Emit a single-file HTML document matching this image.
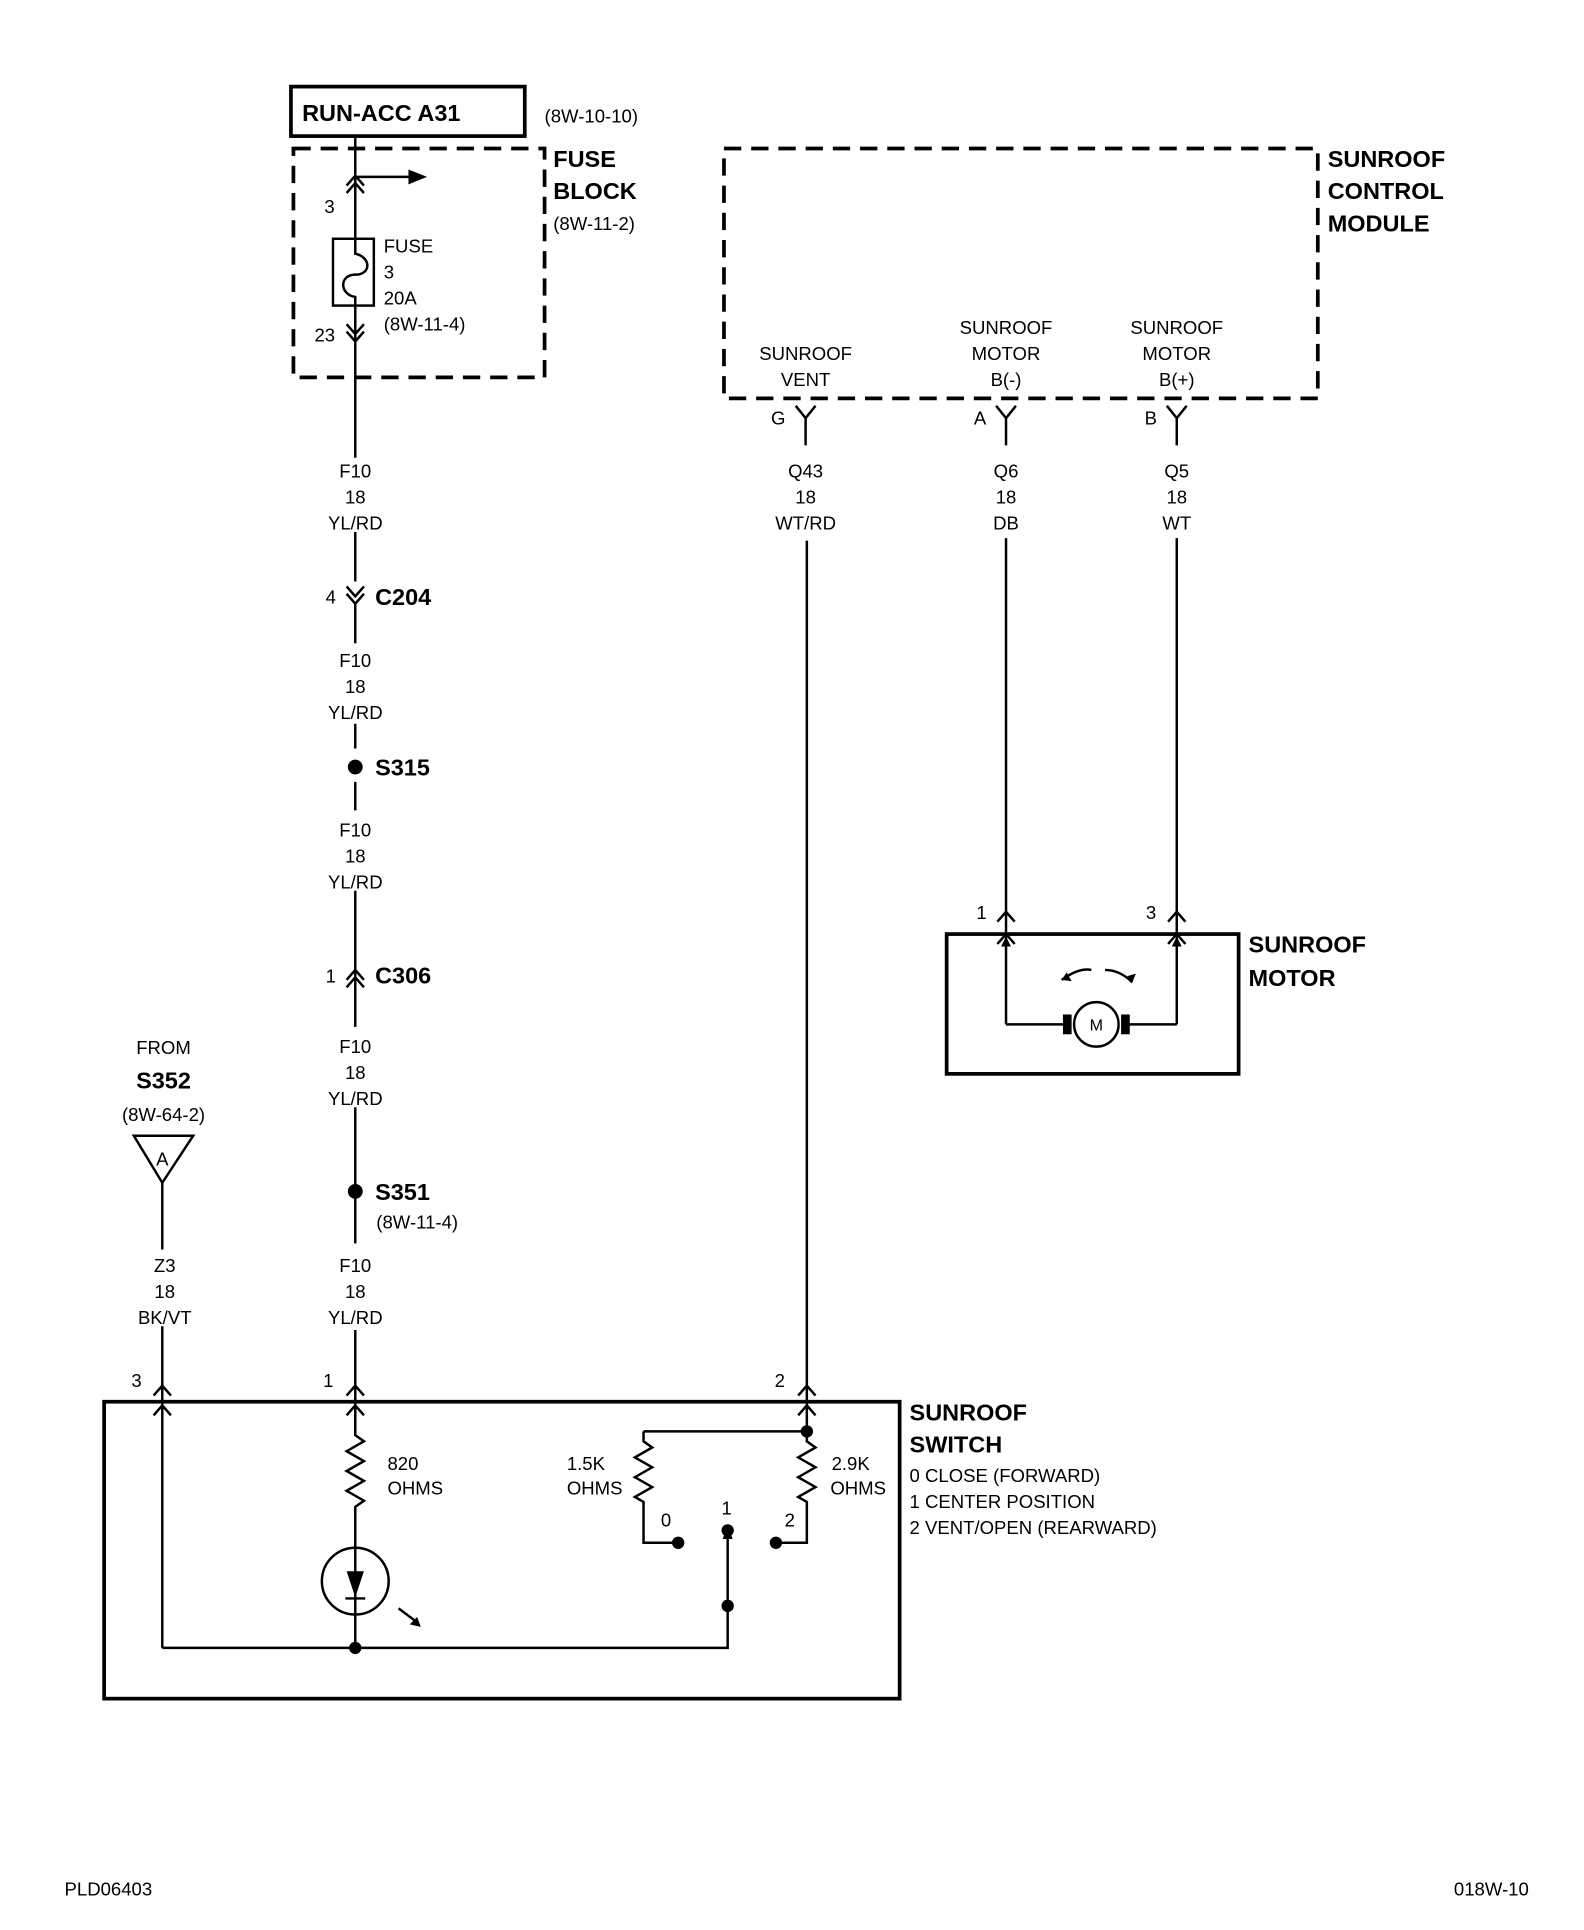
<!DOCTYPE html>
<html><head><meta charset="utf-8"><style>
html,body{margin:0;padding:0;background:#fff}
svg{display:block}
text{font-family:"Liberation Sans Narrow","Liberation Sans",sans-serif;fill:#000}
.s{font-size:15px}
.b{font-size:19px;font-weight:bold}
</style></head><body>
<svg width="1584" height="1930" viewBox="0 0 1280 1560" xmlns="http://www.w3.org/2000/svg">
<g stroke="#000" stroke-width="2" fill="none">
<!-- top box -->
<rect x="235" y="70" width="189" height="40" stroke-width="3"/>
<rect x="237" y="120" width="203" height="185" stroke-dasharray="14,8" stroke-width="3"/>
<rect x="585" y="120" width="480" height="202" stroke-dasharray="14,8" stroke-width="3"/>
<!-- main wire -->
<line x1="287" y1="110" x2="287" y2="193"/>
<line x1="287" y1="247" x2="287" y2="370"/>
<line x1="287" y1="430" x2="287" y2="470"/>
<line x1="287" y1="488" x2="287" y2="520"/>
<line x1="287" y1="585" x2="287" y2="605"/>
<line x1="287" y1="632" x2="287" y2="655"/>
<line x1="287" y1="720" x2="287" y2="830"/>
<line x1="287" y1="895" x2="287" y2="1005"/>
<line x1="287" y1="1075" x2="287" y2="1160"/>
<!-- arrow right -->
<line x1="287" y1="143" x2="330" y2="143"/>
<!-- fuse -->
<rect x="269" y="193" width="33" height="54"/>
<path d="M287 193 V205 C300 208,300 222,287 222 C274 222,274 238,287 240 V247"/>
<!-- chevrons -->
<path d="M280 150 L287 142 L294 150 M280 156 L287 148 L294 156"/>
<path d="M280 262 L287 270 L294 262 M280 268 L287 276 L294 268"/>
<path d="M280 474 L287 482 L294 474 M280 480 L287 488 L294 480"/>
<path d="M280 792 L287 784 L294 792 M280 798 L287 790 L294 798"/>
<path d="M280 1128 L287 1120 L294 1128 M280 1144 L287 1136 L294 1144"/>
<path d="M124 1128 L131 1120 L138 1128 M124 1144 L131 1136 L138 1144"/>
<path d="M645 1128 L652 1120 L659 1128 M645 1144 L652 1136 L659 1144"/>
<path d="M806 745 L813 737 L820 745 M806 763 L813 755 L820 763"/>
<path d="M944 745 L951 737 L958 745 M944 763 L951 755 L958 763"/>
<!-- module female connectors -->
<path d="M643 328 L651 338 L659 328 M651 338 V360"/>
<path d="M805 328 L813 338 L821 328 M813 338 V360"/>
<path d="M943 328 L951 338 L959 328 M951 338 V360"/>
<line x1="652" y1="437" x2="652" y2="1157"/>
<line x1="813" y1="435" x2="813" y2="828"/>
<line x1="951" y1="435" x2="951" y2="828"/>
<!-- motor -->
<rect x="765" y="755" width="236" height="113" stroke-width="3"/>
<path d="M813 828 H860 M912 828 H951"/>
<circle cx="886" cy="828" r="18"/>
<path d="M858 792 Q872 782 882 784 M893 784 Q905 784 915 794"/>
<!-- S352 triangle -->
<path d="M108 918 H156 L131 956 Z"/>
<line x1="131" y1="956" x2="131" y2="1010"/>
<line x1="131" y1="1072" x2="131" y2="1332"/>
<!-- switch box -->
<rect x="84" y="1133" width="643" height="240" stroke-width="3"/>
<path d="M287 1138 V1160 l7 5 l-14 8 l14 8 l-14 8 l14 8 l-14 8 l14 8 l-7 5 V1252"/>
<circle cx="287" cy="1278" r="27"/>
<path d="M287 1252 V1332"/>
<path d="M279 1292 H295"/>
<path d="M131 1332 H588 V1240"/>
<path d="M322 1300 L338 1312"/>
<path d="M520 1157 H652 M520 1157 V1165 l7 5 l-14 8 l14 8 l-14 8 l14 8 l-14 8 l7 4 V1247 H548"/>
<path d="M652 1157 V1165 l7 5 l-14 8 l14 8 l-14 8 l14 8 l-14 8 l7 4 V1247 H627"/>
</g>
<g fill="#000">
<path d="M330 137 L345 143 L330 149 Z"/>
<path d="M280 1270 H294 L287 1291 Z"/>
<path d="M340 1315 L331 1313 L337 1307 Z"/>
<path d="M584 1244 L588 1232 L592 1244 Z"/>
<path d="M809 765 L813 757 L817 765 Z"/>
<path d="M947 765 L951 757 L955 765 Z"/>
<rect x="859" y="820" width="7" height="16"/>
<rect x="906" y="820" width="7" height="16"/>
<path d="M858 792 L862 786 L866 793 Z"/>
<path d="M915 794 L918 787 L911 789 Z"/>
<circle cx="287" cy="620" r="6"/>
<circle cx="287" cy="963" r="6"/>
<circle cx="287" cy="1332" r="5"/>
<circle cx="588" cy="1298" r="5"/>
<circle cx="588" cy="1237" r="5"/>
<circle cx="548" cy="1247" r="5"/>
<circle cx="627" cy="1247" r="5"/>
<circle cx="652" cy="1157" r="5"/>
</g>
<text x="244" y="98" class="b">RUN-ACC A31</text>
<text x="440" y="99" class="s">(8W-10-10)</text>
<text x="447" y="135" class="b">FUSE</text>
<text x="447" y="161" class="b">BLOCK</text>
<text x="447" y="186" class="s">(8W-11-2)</text>
<text x="262" y="172" class="s">3</text>
<text x="310" y="204" class="s">FUSE</text>
<text x="310" y="225" class="s">3</text>
<text x="310" y="246" class="s">20A</text>
<text x="310" y="267" class="s">(8W-11-4)</text>
<text x="254" y="276" class="s">23</text>
<text x="1073" y="135" class="b">SUNROOF</text>
<text x="1073" y="161" class="b">CONTROL</text>
<text x="1073" y="187" class="b">MODULE</text>
<g class="s" text-anchor="middle">
<text x="651" y="291">SUNROOF</text><text x="651" y="312">VENT</text>
<text x="813" y="270">SUNROOF</text><text x="813" y="291">MOTOR</text><text x="813" y="312">B(-)</text>
<text x="951" y="270">SUNROOF</text><text x="951" y="291">MOTOR</text><text x="951" y="312">B(+)</text>
<text x="651" y="386">Q43</text><text x="651" y="407">18</text><text x="651" y="428">WT/RD</text>
<text x="813" y="386">Q6</text><text x="813" y="407">18</text><text x="813" y="428">DB</text>
<text x="951" y="386">Q5</text><text x="951" y="407">18</text><text x="951" y="428">WT</text>
<text x="287" y="386">F10</text><text x="287" y="407">18</text><text x="287" y="428">YL/RD</text>
<text x="287" y="539">F10</text><text x="287" y="560">18</text><text x="287" y="581">YL/RD</text>
<text x="287" y="676">F10</text><text x="287" y="697">18</text><text x="287" y="718">YL/RD</text>
<text x="287" y="851">F10</text><text x="287" y="872">18</text><text x="287" y="893">YL/RD</text>
<text x="287" y="1028">F10</text><text x="287" y="1049">18</text><text x="287" y="1070">YL/RD</text>
<text x="133" y="1028">Z3</text><text x="133" y="1049">18</text><text x="133" y="1070">BK/VT</text>
<text x="132" y="852">FROM</text>
<text x="132" y="906">(8W-64-2)</text>
<text x="131" y="942">A</text>
<text x="886" y="833" style="font-size:13px">M</text>
</g>
<text x="132" y="880" class="b" text-anchor="middle">S352</text>
<text x="623" y="343" class="s">G</text>
<text x="787" y="343" class="s">A</text>
<text x="925" y="343" class="s">B</text>
<text x="263" y="488" class="s">4</text>
<text x="303" y="489" class="b">C204</text>
<text x="303" y="627" class="b">S315</text>
<text x="263" y="794" class="s">1</text>
<text x="303" y="795" class="b">C306</text>
<text x="303" y="970" class="b">S351</text>
<text x="304" y="993" class="s">(8W-11-4)</text>
<text x="106" y="1121" class="s">3</text>
<text x="261" y="1121" class="s">1</text>
<text x="626" y="1121" class="s">2</text>
<text x="789" y="743" class="s">1</text>
<text x="926" y="743" class="s">3</text>
<text x="1009" y="770" class="b">SUNROOF</text>
<text x="1009" y="797" class="b">MOTOR</text>
<text x="313" y="1188" class="s">820</text>
<text x="313" y="1208" class="s">OHMS</text>
<text x="458" y="1188" class="s">1.5K</text>
<text x="458" y="1208" class="s">OHMS</text>
<text x="672" y="1188" class="s">2.9K</text>
<text x="671" y="1208" class="s">OHMS</text>
<text x="534" y="1234" class="s">0</text>
<text x="583" y="1224" class="s">1</text>
<text x="634" y="1234" class="s">2</text>
<text x="735" y="1148" class="b">SUNROOF</text>
<text x="735" y="1174" class="b">SWITCH</text>
<text x="735" y="1198" class="s">0 CLOSE (FORWARD)</text>
<text x="735" y="1219" class="s">1 CENTER POSITION</text>
<text x="735" y="1240" class="s">2 VENT/OPEN (REARWARD)</text>
<text x="52" y="1532" class="s">PLD06403</text>
<text x="1175" y="1532" class="s">018W-10</text>
</svg>
</body></html>
